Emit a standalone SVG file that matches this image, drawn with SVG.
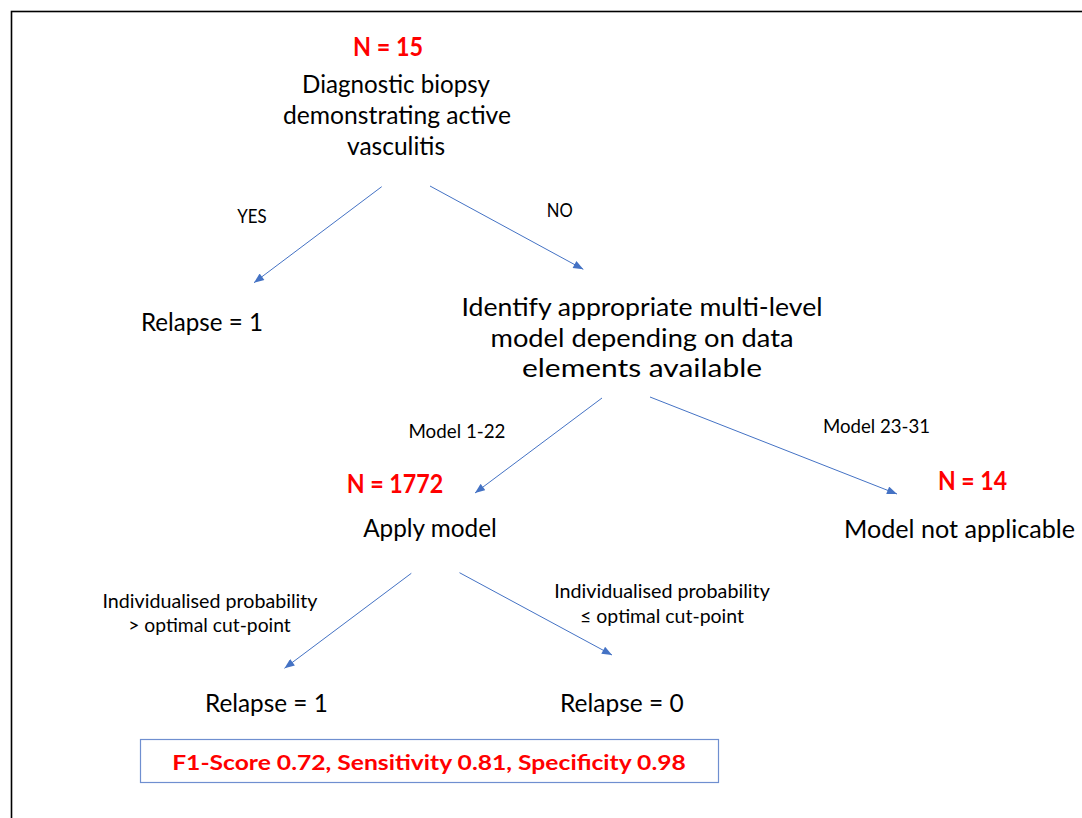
<svg xmlns="http://www.w3.org/2000/svg" width="1082" height="818" viewBox="0 0 1082 818">
<style>
text{font-family:Lato,"Liberation Sans",sans-serif;text-anchor:middle}
.m{font-size:25.5px;fill:#000}
.n{font-size:26px;font-weight:bold;fill:#ff0000}
.s{font-size:19px;fill:#000}
.f{font-size:21px;font-weight:bold;fill:#ff0000}
.c{stroke:#4472c4;stroke-width:1;fill:none;marker-end:url(#ah)}
</style>
<defs>
<marker id="ah" viewBox="0 0 10 8" refX="10" refY="4" markerWidth="11" markerHeight="8" orient="auto" markerUnits="userSpaceOnUse">
<path d="M0,0 L10,4 L0,8 Z" fill="#4472c4"/>
</marker>
</defs>
<rect x="0" y="0" width="1082" height="818" fill="#fff"/>
<rect x="11.5" y="11.5" width="1100" height="900" fill="none" stroke="#000" stroke-width="1.6"/>
<g id="connectors">
<line class="c" x1="381.7" y1="186.7" x2="254" y2="282.7"/>
<line class="c" x1="430" y1="186" x2="583.3" y2="269.3"/>
<line class="c" x1="602" y1="398" x2="475" y2="493"/>
<line class="c" x1="650" y1="397" x2="897" y2="494"/>
<line class="c" x1="411.3" y1="573.3" x2="284.5" y2="668.3"/>
<line class="c" x1="459.5" y1="572.7" x2="612" y2="655"/>
<text class="s" x="252" y="223" textLength="29.4" lengthAdjust="spacingAndGlyphs">YES</text>
<text class="s" x="559.7" y="216.7" textLength="26" lengthAdjust="spacingAndGlyphs">NO</text>
<text class="s" x="457" y="438" textLength="97" lengthAdjust="spacingAndGlyphs">Model 1-22</text>
<text class="s" x="876.5" y="433" textLength="107" lengthAdjust="spacingAndGlyphs">Model 23-31</text>
<text class="s" x="210" y="607.5" textLength="215" lengthAdjust="spacingAndGlyphs">Individualised probability</text>
<text class="s" x="209.5" y="631.5" textLength="162.5" lengthAdjust="spacingAndGlyphs">&gt; optimal cut-point</text>
<text class="s" x="662" y="598" textLength="215.7" lengthAdjust="spacingAndGlyphs">Individualised probability</text>
<text class="s" x="662" y="623" textLength="163.8" lengthAdjust="spacingAndGlyphs">≤ optimal cut-point</text>
</g>
<g id="node-biopsy">
<text class="n" x="388" y="56" textLength="70" lengthAdjust="spacingAndGlyphs">N = 15</text>
<text class="m" x="396" y="93" textLength="188" lengthAdjust="spacingAndGlyphs">Diagnostic biopsy</text>
<text class="m" x="397" y="124" textLength="228" lengthAdjust="spacingAndGlyphs">demonstrating active</text>
<text class="m" x="396" y="155" textLength="98" lengthAdjust="spacingAndGlyphs">vasculitis</text>
</g>
<g id="node-relapse-yes">
<text class="m" x="202" y="331" textLength="122" lengthAdjust="spacingAndGlyphs">Relapse = 1</text>
</g>
<g id="node-identify">
<text class="m" x="642" y="316" textLength="361" lengthAdjust="spacingAndGlyphs">Identify appropriate multi-level</text>
<text class="m" x="642" y="347" textLength="303" lengthAdjust="spacingAndGlyphs">model depending on data</text>
<text class="m" x="642" y="377" textLength="240" lengthAdjust="spacingAndGlyphs">elements available</text>
</g>
<g id="node-apply">
<text class="n" x="395" y="493" textLength="96.7" lengthAdjust="spacingAndGlyphs">N = 1772</text>
<text class="m" x="430" y="537" textLength="133.7" lengthAdjust="spacingAndGlyphs">Apply model</text>
</g>
<g id="node-not-applicable">
<text class="n" x="972.5" y="490" textLength="69" lengthAdjust="spacingAndGlyphs">N = 14</text>
<text class="m" x="959.5" y="538" textLength="231" lengthAdjust="spacingAndGlyphs">Model not applicable</text>
</g>
<g id="node-relapse-1">
<text class="m" x="266.4" y="712" textLength="122.8" lengthAdjust="spacingAndGlyphs">Relapse = 1</text>
</g>
<g id="node-relapse-0">
<text class="m" x="621.8" y="712" textLength="123.6" lengthAdjust="spacingAndGlyphs">Relapse = 0</text>
</g>
<g id="node-metrics">
<rect x="140.5" y="739.5" width="578" height="43" fill="none" stroke="#6f8fd0" stroke-width="1.2"/>
<text class="f" x="429" y="769.5" textLength="513.7" lengthAdjust="spacingAndGlyphs">F1-Score 0.72, Sensitivity 0.81, Specificity 0.98</text>
</g>
</svg>
